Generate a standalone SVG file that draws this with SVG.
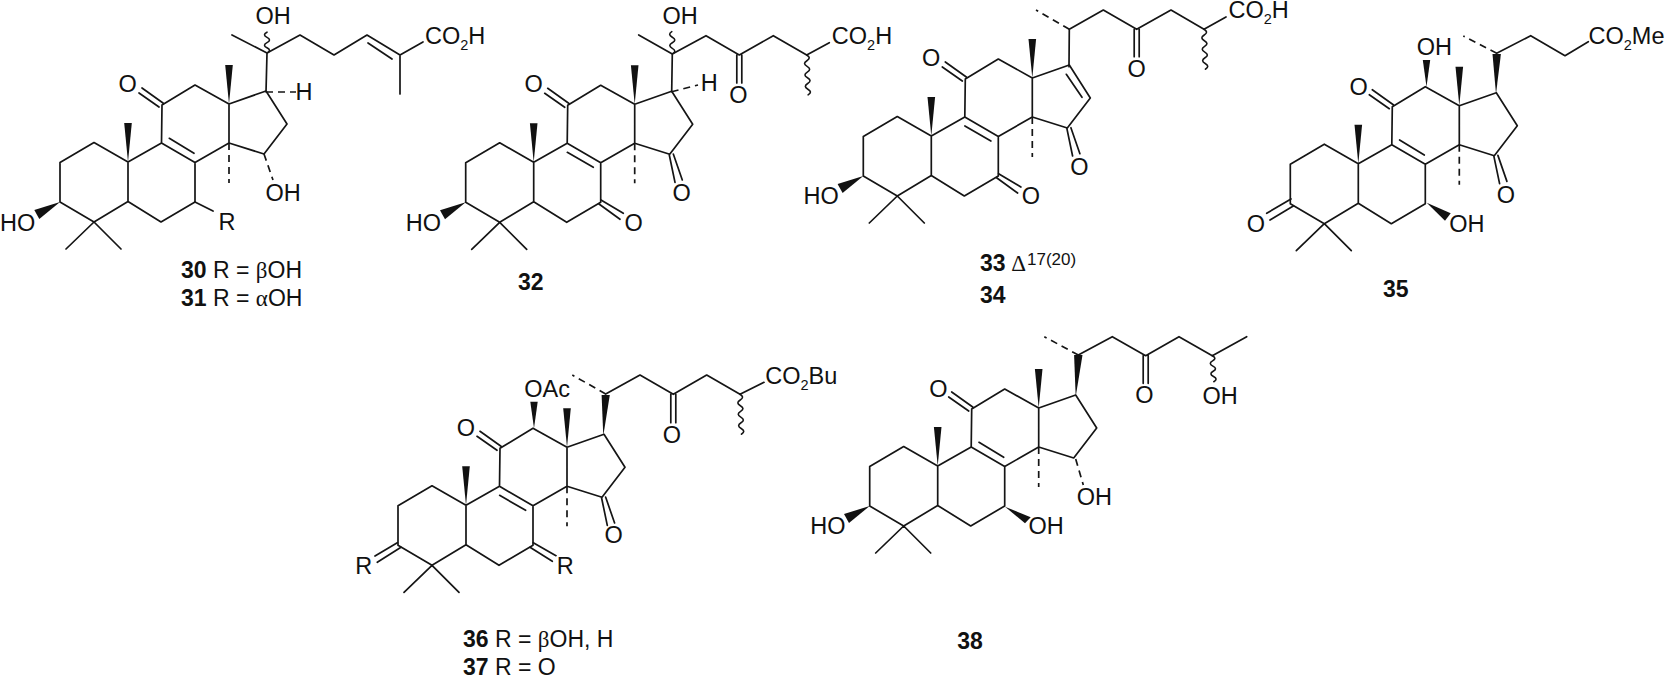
<svg xmlns="http://www.w3.org/2000/svg" width="1666" height="678" viewBox="0 0 1666 678">
<style>
text{font-family:"Liberation Sans",Arial,sans-serif;font-size:23.5px;fill:#111}
.l{font-size:23px}
.n{font-weight:bold}
.g{font-family:"Liberation Serif","Times New Roman",serif}
.s{font-size:14.500px}
.b,.d,.v{fill:none;stroke:#151515;stroke-width:1.7;stroke-linecap:round;stroke-linejoin:round}
.d{stroke-dasharray:7 5;stroke-linecap:butt}
.v{stroke-width:1.6}
.w{fill:#111;stroke:none}
</style>
<defs>
<g id="sk">
<path class="b" d="M-34 -19.5L0 0L33.5 -19L67 .5L67 40L33 60L0 39.5L-34 60L-68 40L-68 .5ZM0 0V39.5M33.5 -19L34 -57L67 -77L101 -58L101 -19L67 .5M101 -58L138 -71L159 -38L136 -8L101 -19M-34 60L-62 87M-34 60L-7 87M35 -59L14 -74M31 -55L11 -69"/>
<path class="d" d="M101 -19V21"/>
<polygon class="w" points="0,0 -3.8,-39 3.8,-39"/>
<polygon class="w" points="101,-58 97.2,-97 104.8,-97"/>
</g>
<path id="dbC" class="b" d="M41.3 -23.700L66 -8.700"/>
<path id="dbB" class="b" d="M33.600 -10L59.600 5"/>
<polygon id="ho3" class="w" points="-68,40 -93.7,48 -88.7,57"/>
<path id="k15" class="b" d="M135.6 -7.3L141.3 20M139.6 -8.3L148.6 17.7"/>
<path id="k7" class="b" d="M67.3 37.7L89.6 51M65.3 41.7L86.3 57"/>
</defs>

<g id="compound-30">
<use href="#sk" x="128" y="162"/><use href="#dbC" x="128" y="162"/><use href="#ho3" x="128" y="162"/>
<path class="b" d="M266 92L267 53M232 35L267 53L300 35L334 55L367 35L400 55L400 94M400 55L423 42M368 43L392 59M195 202L213 211"/>
<path class="d" d="M266 92H296M264 154L273 180"/>
<path class="v" d="M267 53q5 -2.600 0 -5.200t0 -5.200t0 -5.200t0 -5.200"/>
<text x="255.500" y="24">OH</text>
<text x="425" y="44">CO<tspan class="s" dy="5.500">2</tspan><tspan dy="-5.500">H</tspan></text>
<text x="295.500" y="100">H</text>
<text x="118.500" y="92.300">O</text>
<text x="265.500" y="200.700">OH</text>
<text x="0" y="230.700">HO</text>
<text x="218.500" y="230">R</text>
<text class="l" x="181" y="278"><tspan class="n">30</tspan> R = <tspan class="g">β</tspan>OH</text>
<text class="l" x="181" y="306"><tspan class="n">31</tspan> R = <tspan class="g">α</tspan>OH</text>
</g>

<g id="compound-32">
<use href="#sk" x="533.700" y="162.300"/><use href="#dbB" x="533.700" y="162.300"/><use href="#ho3" x="533.700" y="162.300"/><use href="#k15" x="533.700" y="162.300"/><use href="#k7" x="533.700" y="162.300"/>
<path class="b" d="M671.700 91.700L672.300 54M638.700 35L672.300 54L706 35.700L739.300 55L773.300 35.700L806.700 55L829.300 42.700M736.800 55V83M741.800 55V83"/>
<path class="d" d="M671.700 91.700L698 85"/>
<path class="v" d="M672.300 54q5 -2.800 0 -5.600t0 -5.600t0 -5.600t-.5 -5.600"/>
<path class="v" d="M806.700 55q5 2.800 .2 5.700t.2 5.700t.2 5.700t.2 5.700t.2 5.700t.2 5.700t.2 5.700"/>
<text x="662.500" y="24">OH</text>
<text x="831.800" y="44.300">CO<tspan class="s" dy="5.500">2</tspan><tspan dy="-5.500">H</tspan></text>
<text x="700.800" y="90.700">H</text>
<text x="729.200" y="103.300">O</text>
<text x="524.500" y="92.300">O</text>
<text x="672.500" y="201">O</text>
<text x="624.500" y="230.700">O</text>
<text x="405.800" y="230.700">HO</text>
<text class="l n" x="518" y="290">32</text>
</g>

<g id="compound-33-34">
<use href="#sk" x="931.300" y="136"/><use href="#dbB" x="931.300" y="136"/><use href="#ho3" x="931.300" y="136"/><use href="#k15" x="931.300" y="136"/><use href="#k7" x="931.300" y="136"/>
<path class="b" d="M1069 66.700L1069.300 29.300L1103.300 10L1136.700 29.300L1171 10L1204 29.300L1226 17M1134.200 29.300V56.700M1139.200 29.300V56.700M1066.300 74.300L1082 97.300"/>
<path class="d" d="M1069.300 29.300L1036 10"/>
<path class="v" d="M1204 29.300q5 2.800 .2 5.700t.2 5.700t.2 5.700t.2 5.700t.2 5.700t.2 5.700t.2 5.700"/>
<text x="1228.500" y="18.300">CO<tspan class="s" dy="5.500">2</tspan><tspan dy="-5.500">H</tspan></text>
<text x="1127.500" y="76.700">O</text>
<text x="922.100" y="66">O</text>
<text x="1070.200" y="175">O</text>
<text x="1021.800" y="204">O</text>
<text x="803.500" y="204.300">HO</text>
<text class="l n" x="980" y="270.700">33</text>
<text class="l g" x="1011.300" y="270.700">Δ</text>
<text x="1027" y="265" style="font-size:17px">17(20)</text>
<text class="l n" x="980" y="303">34</text>
</g>

<g id="compound-35">
<use href="#sk" x="1358.300" y="163.700"/><use href="#dbC" x="1358.300" y="163.700"/><use href="#k15" x="1358.300" y="163.700"/>
<polygon class="w" points="1426.500,86.700 1422.800,60 1430.200,60"/>
<polygon class="w" points="1496,94 1492.500,54 1500.900,54"/>
<polygon class="w" points="1426.700,202.700 1450.700,213.300 1445,220.700"/>
<path class="b" d="M1496.700 53.300L1530.700 35.700L1565 55.700L1588.300 41.700M1291 199L1266.700 213.300M1293.300 206L1270 220"/>
<path class="d" d="M1496.700 53.300L1463.300 36"/>
<text x="1416.800" y="55">OH</text>
<text x="1588.500" y="44.300">CO<tspan class="s" dy="5.500">2</tspan><tspan dy="-5.500">Me</tspan></text>
<text x="1349.500" y="94.500">O</text>
<text x="1496.800" y="202.700">O</text>
<text x="1246.800" y="231.700">O</text>
<text x="1449.200" y="232.300">OH</text>
<text class="l n" x="1383" y="296.700">35</text>
</g>

<g id="compound-36-37">
<use href="#sk" x="466" y="505.300"/><use href="#dbB" x="466" y="505.300"/><use href="#k15" x="466" y="505.300"/>
<polygon class="w" points="534,428.300 530.300,401.700 537.700,401.700"/>
<polygon class="w" points="603.300,435.700 601.600,395 609.800,395"/>
<path class="b" d="M605.700 394L640 375L673.300 394.300L706.700 375L740 394.300L764 382.300M670.800 394.300V422.700M675.800 394.300V422.700M397.300 542.700L375 556M401 547.300L377.300 562.300M533.300 542.700L556 555.700M530 547.300L552.300 561.300"/>
<path class="d" d="M605.700 394L572.300 375"/>
<path class="v" d="M740 394.300q5 2.800 .2 5.700t.2 5.700t.2 5.700t.2 5.700t.2 5.700t.2 5.700t.2 5.700"/>
<text x="524.200" y="396.700">OAc</text>
<text x="765.200" y="384.300">CO<tspan class="s" dy="5.500">2</tspan><tspan dy="-5.500">Bu</tspan></text>
<text x="456.800" y="436">O</text>
<text x="662.800" y="442.700">O</text>
<text x="604.500" y="543.300">O</text>
<text x="355.200" y="574">R</text>
<text x="556.800" y="574">R</text>
<text class="l" x="463" y="647.300"><tspan class="n">36</tspan> R = <tspan class="g">β</tspan>OH, H</text>
<text class="l" x="463" y="675"><tspan class="n">37</tspan> R = O</text>
</g>

<g id="compound-38">
<use href="#sk" x="937.700" y="466"/><use href="#dbC" x="937.700" y="466"/><use href="#ho3" x="937.700" y="466"/>
<polygon class="w" points="1075.700,396.700 1074.100,355 1082.500,355"/>
<polygon class="w" points="1005,506.700 1030.700,517.300 1025,523.300"/>
<path class="b" d="M1078.300 355L1112.300 336.700L1145.700 355.700L1179 336.700L1212.300 355.700L1246.700 336.700M1143.200 355.700V383.300M1148.200 355.700V383.300"/>
<path class="d" d="M1078.300 355L1044.300 336.700M1075.700 459L1083.300 485"/>
<path class="v" d="M1212.300 355.700q5 2.600 .3 5.200t.3 5.200t.3 5.200t.3 5.200t.3 5.200"/>
<text x="929.200" y="396.700">O</text>
<text x="1135.200" y="403.300">O</text>
<text x="1202.500" y="404">OH</text>
<text x="1076.800" y="505">OH</text>
<text x="1028.500" y="534.300">OH</text>
<text x="810.200" y="534.300">HO</text>
<text class="l n" x="957.300" y="649.300">38</text>
</g>
</svg>
